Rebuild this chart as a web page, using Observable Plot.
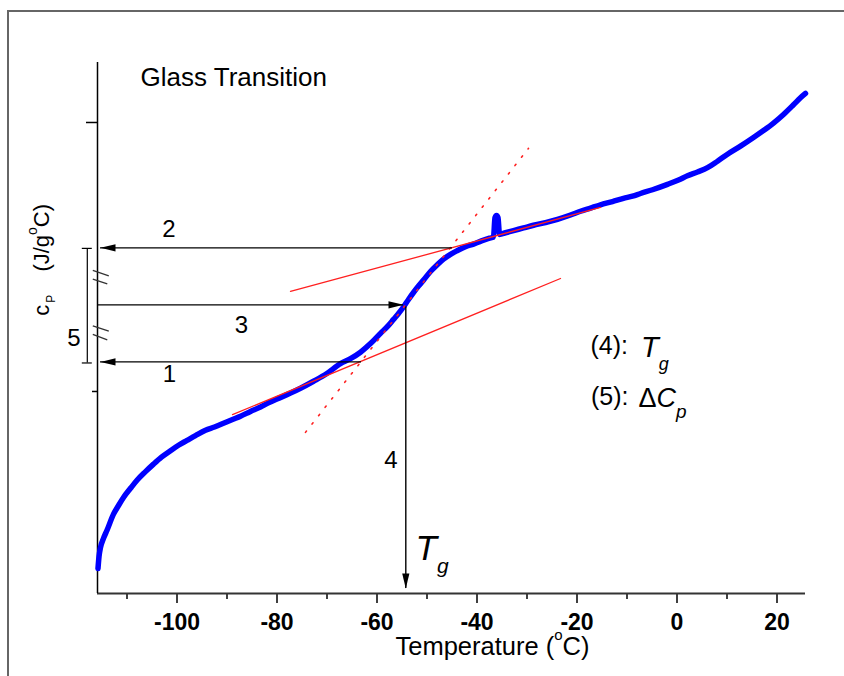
<!DOCTYPE html>
<html>
<head>
<meta charset="utf-8">
<script src="https://cdn.jsdelivr.net/npm/d3@7"></script>
<script src="https://cdn.jsdelivr.net/npm/@observablehq/plot@0.6"></script>
<style>
html, body { margin: 0; padding: 0; background: #fff; overflow: hidden; }
#wrap { position: relative; width: 844px; height: 676px; }
#wrap svg { position: absolute; left: 0; top: 0; }
#border { position: absolute; left: 7px; top: 10px; right: 0; bottom: 0;
  border-top: 2px solid #666; border-left: 2px solid #666; pointer-events: none; }
</style>
</head>
<body>
<div id="wrap"></div>
<script>
// ---- DSC heat-flow curve (temperature in °C, cp in J/g°C)
const temperature = [-115.8,-115.6,-115.3,-114.7,-114.0,-112.7,-111.7,-110.7,-109.3,-108.0,
  -106.3,-104.7,-103.1,-101.3,-99.7,-98.0,-96.3,-94.3,-92.5,-90.7,
  -88.9,-87.3,-85.3,-83.3,-81.7,-80.0,-77.3,-75.3,-72.7,-70.1,
  -67.3,-65.3,-63.3,-61.3,-59.3,-57.7,-56.7,-55.7,-54.7,-53.7,
  -52.7,-51.7,-50.7,-49.3,-47.9,-46.7,-45.3,-43.9,-42.3,-40.7,
  -39.1,-37.5,-36.7,-36.4,-36.1,-35.8,-35.5,-34.3,-32.7,-30.7,
  -28.7,-26.3,-23.9,-21.3,-19.3,-17.3,-15.3,-12.9,-10.7,-8.9,
  -7.3,-4.9,-1.9,0.3,2.1,4.1,6.1,8.1,10.1,12.7,
  15.3,17.3,19.3,21.3,23.3,24.7,25.7];
const cp = [1.171,1.193,1.210,1.227,1.242,1.272,1.288,1.303,1.320,1.335,
  1.351,1.365,1.378,1.390,1.400,1.409,1.418,1.428,1.434,1.441,
  1.448,1.454,1.463,1.471,1.479,1.486,1.497,1.506,1.519,1.533,
  1.552,1.561,1.573,1.589,1.608,1.623,1.634,1.645,1.657,1.671,
  1.684,1.696,1.707,1.723,1.736,1.746,1.755,1.762,1.769,1.774,
  1.780,1.785,1.787,1.823,1.827,1.823,1.792,1.795,1.799,1.804,
  1.809,1.814,1.820,1.828,1.835,1.841,1.847,1.853,1.859,1.863,
  1.868,1.875,1.885,1.893,1.901,1.908,1.916,1.928,1.941,1.956,
  1.972,1.985,1.999,2.015,2.033,2.046,2.054];

// ---- tangent construction lines (end points)
const tangentUpperT = [-77.3, -15.3];
const tangentUpperCp = [1.686, 1.842];
const tangentLowerT = [-88.9, -23.3];
const tangentLowerCp = [1.457, 1.710];
const inflectionT = [-74.3, -29.7];
const inflectionCp = [1.424, 1.952];

// ---- construction arrows: horizontal (2, 3, 1) and vertical (4)
const hArrowCp = [1.767, 1.661, 1.555];
const hArrowTail = [-44.9, -115.9, -63.1];
const hArrowTip = [-115.3, -54.7, -115.3];
const vArrowT = [-54.24];
const vArrowTail = [1.657];
const vArrowTip = [1.134];
const tipAngle = [-90, 90, -90, 180];

// ---- ΔCp bracket and break marks on the y axis
const bracketT = -117.94;
const bracketCapT = [-118.94, -116.94];
const bracketCp = [1.766, 1.553];
const breakT1 = [-116.84, -116.84, -116.84, -116.84];
const breakT2 = [-113.64, -113.94, -113.64, -113.94];
const breakCp1 = [1.725, 1.709, 1.622, 1.606];
const breakCp2 = [1.715, 1.700, 1.612, 1.596];

// ---- axes
const xDomain = [-115.9, 25.7];
const yDomain = [1.1245, 2.1115];
const xMajorTicks = [-100, -80, -60, -40, -20, 0, 20];
const xMinorTicks = [-110, -90, -70, -50, -30, -10, 10];
const yMajorTicks = [2.0];
const yMinorTicks = [1.5];

// ---- text labels
const arrowLabels = ["2", "3", "1", "4", "5"];
const arrowLabelT = [-101.64, -87.14, -101.54, -57.24, -120.64];
const arrowLabelCp = [1.802, 1.623, 1.532, 1.372, 1.598];

const curve = temperature.map((t, i) => ({t, cp: cp[i]}));
const seg = (ts, cs) => ts.map((t, i) => ({t, cp: cs[i]}));
const hArrows = hArrowCp.map((c, i) => ({cp: c, t1: hArrowTail[i], t2: hArrowTip[i]}));
const vArrows = vArrowT.map((t, i) => ({t, c1: vArrowTail[i], c2: vArrowTip[i]}));
const tips = [
  ...hArrows.map(a => ({t: a.t2, cp: a.cp})),
  ...vArrows.map(a => ({t: a.t, cp: a.c2}))
].map((d, i) => ({...d, angle: tipAngle[i]}));
const breaks = breakT1.map((t, i) => ({x1: t, x2: breakT2[i], y1: breakCp1[i], y2: breakCp2[i]}));
const labels = arrowLabels.map((s, i) => ({s, t: arrowLabelT[i], cp: arrowLabelCp[i]}));

const arrowHead = {
  draw(context) {
    context.moveTo(0, 0);
    context.lineTo(-3.6, 15);
    context.lineTo(3.6, 15);
    context.closePath();
  }
};

const red = "#ff2020";
const FONT = "'Liberation Sans', Arial, Helvetica, sans-serif";

const chart = Plot.plot({
  width: 844,
  height: 676,
  marginLeft: 97,
  marginRight: 39,
  marginTop: 62,
  marginBottom: 83,
  style: {fontFamily: FONT, fontSize: "24px", color: "black", background: "white"},
  x: {domain: xDomain},
  y: {domain: yDomain},
  marks: [
    // axes
    Plot.axisX({ticks: xMajorTicks, tickSize: 10, tickPadding: 10, fontSize: 23,
      fontWeight: "bold", tickFormat: d => String(d), label: null, strokeWidth: 1.5}),
    Plot.axisX({ticks: xMinorTicks, tickSize: 6, tickFormat: () => "", label: null, strokeWidth: 1.5}),
    Plot.axisY({ticks: yMajorTicks, tickSize: 11, tickFormat: () => "", label: null, strokeWidth: 1.5}),
    Plot.axisY({ticks: yMinorTicks, tickSize: 5, tickFormat: () => "", label: null, strokeWidth: 1.5}),
    Plot.ruleY([yDomain[0]], {stroke: "#333", strokeWidth: 2}),
    Plot.ruleX([xDomain[0]], {stroke: "black", strokeWidth: 1.5}),

    // measured curve
    Plot.line(curve, {x: "t", y: "cp", stroke: "#0000ff", strokeWidth: 5.5,
      curve: "monotone-x", strokeLinecap: "round", strokeLinejoin: "round"}),

    // tangents
    Plot.line(seg(tangentUpperT, tangentUpperCp), {x: "t", y: "cp", stroke: red, strokeWidth: 1.3}),
    Plot.line(seg(tangentLowerT, tangentLowerCp), {x: "t", y: "cp", stroke: red, strokeWidth: 1.3}),
    Plot.line(seg(inflectionT, inflectionCp), {x: "t", y: "cp", stroke: red, strokeWidth: 1.6,
      strokeDasharray: "1.6,9", strokeLinecap: "round"}),

    // arrows
    Plot.ruleY(hArrows, {y: "cp", x1: "t1", x2: "t2", stroke: "black", strokeWidth: 1.4}),
    Plot.ruleX(vArrows, {x: "t", y1: "c1", y2: "c2", stroke: "black", strokeWidth: 1.4}),
    Plot.dot(tips, {x: "t", y: "cp", rotate: "angle", symbol: arrowHead, fill: "black", stroke: "none", r: 5}),

    // ΔCp bracket and breaks
    Plot.ruleX([bracketT], {y1: bracketCp[0], y2: bracketCp[1], stroke: "black", strokeWidth: 1.2}),
    Plot.ruleY(bracketCp, {x1: bracketCapT[0], x2: bracketCapT[1], stroke: "black", strokeWidth: 1.2}),
    Plot.link(breaks, {x1: "x1", y1: "y1", x2: "x2", y2: "y2", stroke: "#333", strokeWidth: 1.3}),

    // labels
    Plot.text(labels, {x: "t", y: "cp", text: "s", fontSize: 24, textAnchor: "middle", lineAnchor: "middle"}),
    Plot.text(["Glass Transition"], {x: -107.3, y: 2.067, text: d => d, fontSize: 26,
      textAnchor: "start", lineAnchor: "bottom"}),
    Plot.text(["Tg"], {x: -52.3, y: 1.186, text: d => d, fontSize: 35, fontStyle: "italic",
      textAnchor: "start", lineAnchor: "bottom"}),
    Plot.text(["(4): Tg"], {x: -17.3, y: 1.5706, text: d => d, fontSize: 25,
      textAnchor: "start", lineAnchor: "bottom"}),
    Plot.text(["(5): ΔCp"], {x: -17.2, y: 1.474, text: d => d, fontSize: 25,
      textAnchor: "start", lineAnchor: "bottom"}),
    Plot.text(["Temperature (°C)"], {x: -56.3, y: 1.0093, text: d => d, fontSize: 25.5,
      textAnchor: "start", lineAnchor: "bottom"}),
    Plot.text(["cP (J/g°C)"], {x: -125.7, y: 1.641, text: d => d, fontSize: 22, rotate: -90,
      textAnchor: "start", lineAnchor: "bottom"})
  ]
});

// rich text: sub/superscripts and italics as tspans
const rich = {
  "Tg": [{t: "T"}, {t: "g", size: 21, dy: 13}],
  "(4): Tg": [{t: "(4):"}, {t: "T", size: 29, italic: true, dx: 13, dy: 3}, {t: "g", size: 18, italic: true, dy: 13}],
  "(5): ΔCp": [{t: "(5):"}, {t: "Δ", size: 27, dx: 10, dy: 2}, {t: "C", size: 27, italic: true}, {t: "p", size: 19, italic: true, dy: 11}],
  "Temperature (°C)": [{t: "Temperature ("}, {t: "o", size: 15, dy: -15}, {t: "C)", dy: 15}],
  "cP (J/g°C)": [{t: "c"}, {t: "P", size: 12, dx: 2, dy: 6}, {t: "(J/g", dx: 23, dy: -6}, {t: "o", size: 14, dy: -12}, {t: "C)", dy: 12}]
};
d3.select(chart).selectAll("text").each(function () {
  const parts = rich[this.textContent];
  if (!parts) return;
  const t = d3.select(this);
  t.text(null);
  for (const p of parts) {
    const s = t.append("tspan").text(p.t);
    if (p.size) s.attr("font-size", p.size);
    if (p.dx) s.attr("dx", p.dx);
    if (p.dy) s.attr("dy", p.dy);
    if (p.italic) s.attr("font-style", "italic");
  }
});

const wrap = document.getElementById("wrap");
wrap.appendChild(chart);
const border = document.createElement("div");
border.id = "border";
wrap.appendChild(border);
</script>
</body>
</html>
